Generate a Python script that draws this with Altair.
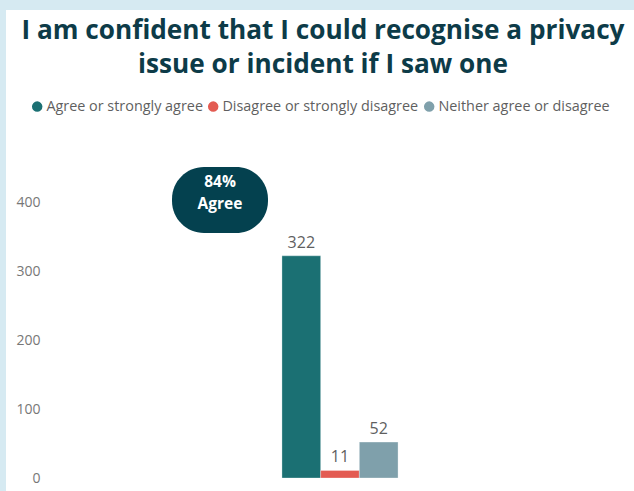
import altair as alt
import pandas as pd

categories = ["Agree or strongly agree", "Disagree or strongly disagree", "Neither agree or disagree"]
counts = [322, 11, 52]
colors = ["#1b7073", "#e35b52", "#7fa0ab"]
y_ticks = [0, 100, 200, 300, 400]
title_lines = ["I am confident that I could recognise a privacy", "issue or incident if I saw one"]

pct = round(100 * counts[0] / sum(counts))
bubble_lines = [f"{pct}%", "Agree"]

df = pd.DataFrame({"group": ["All"] * 3, "category": categories, "count": counts})

W, H = 588, 345
FONT = "Segoe UI, Open Sans"

x_enc = alt.X("group:N", axis=None, scale=alt.Scale(paddingInner=0.508, paddingOuter=1))
xo_enc = alt.XOffset("category:N", sort=categories, scale=alt.Scale(paddingInner=0, paddingOuter=0))
y_enc = alt.Y("count:Q", axis=alt.Axis(values=y_ticks, title=None, grid=False, domain=False,
                                        ticks=False, labelPadding=6, labelColor="#777777",
                                        labelFontSize=14, labelFont=FONT),
              scale=alt.Scale(domain=[0, 500], nice=False))

bars = alt.Chart(df).mark_bar(stroke="white", strokeWidth=0.5, strokeOpacity=0.6).encode(
    x=x_enc,
    xOffset=xo_enc,
    y=y_enc,
    color=alt.Color("category:N", sort=categories,
                    scale=alt.Scale(domain=categories, range=colors),
                    legend=alt.Legend(orient="none", legendX=-16, legendY=-34, direction="horizontal",
                                      title=None, symbolType="circle", symbolSize=144,
                                      labelFontSize=14.4, labelColor="#5f5f5f", labelLimit=400,
                                      labelFont=FONT, columnPadding=1,
                                      symbolOffset=0, labelOffset=2)),
)

labels = alt.Chart(df).mark_text(dy=-8, fontSize=16, color="#5f5f5f", font=FONT,
                                 baseline="alphabetic").encode(
    x=x_enc, xOffset=xo_enc, y="count:Q", text="count:Q"
)

# decorative frame strips (light blue border around the card)
top_strip = alt.Chart().mark_rect(color="#d6eaf2").encode(
    x=alt.value(-46), x2=alt.value(W), y=alt.value(-133), y2=alt.value(-123))
left_strip = alt.Chart().mark_rect(color="#d6eaf2").encode(
    x=alt.value(-46), x2=alt.value(-40), y=alt.value(-133), y2=alt.value(H + 13))

bubble = alt.Chart().mark_rect(color="#04414f", cornerRadius=32).encode(
    x=alt.value(126), x2=alt.value(222), y=alt.value(34), y2=alt.value(100))
bubble_text = alt.Chart().mark_text(color="white", fontWeight="bold", fontSize=15.5,
                                    font=FONT, lineHeight=22,
                                    baseline="middle").encode(
    x=alt.value(174), y=alt.value(49), text=alt.value(bubble_lines))

chart = alt.layer(top_strip, left_strip, bars, labels, bubble, bubble_text).properties(
    width=W, height=H,
    autosize=alt.AutoSizeParams(type="none"),
    padding={"left": 46, "top": 133, "right": 0, "bottom": 13},
    background="white",
    title=alt.TitleParams(title_lines, anchor="middle", frame="group", dx=-17, offset=-78,
                          fontSize=26.2, font=FONT, fontWeight="bold", color="#0d3b48",
                          lineHeight=34),
).configure_view(stroke=None)

chart.save("out.html", embed_options={"renderer": "svg", "actions": False})
